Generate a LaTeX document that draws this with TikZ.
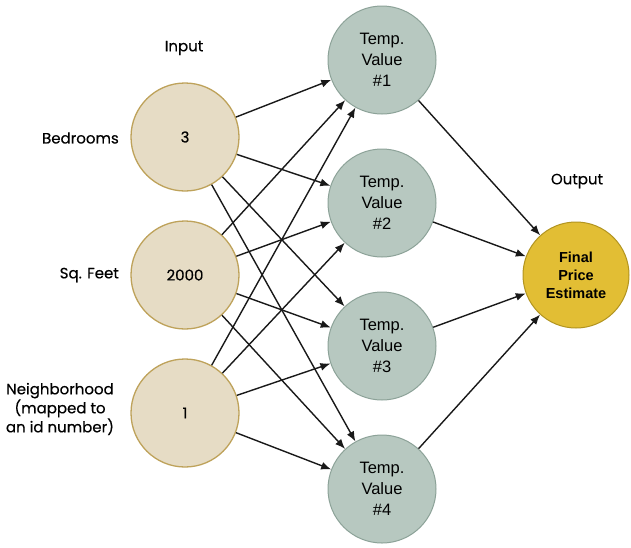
\documentclass[tikz,border=0pt]{standalone}
\usepackage{fontspec}
\setmainfont{Liberation Sans}
\newfontfamily\labelfont[FakeBold=0.4]{Poppins}
\usepackage{tikz}
\usetikzlibrary{arrows.meta}
\definecolor{inputfill}{RGB}{230,220,197}
\definecolor{inputdraw}{RGB}{190,162,90}
\definecolor{tempfill}{RGB}{183,200,192}
\definecolor{tempdraw}{RGB}{140,162,152}
\definecolor{outfill}{RGB}{226,190,52}
\definecolor{outdraw}{RGB}{178,148,32}

\begin{document}
\begin{tikzpicture}[
    x=1pt,
    y=-1pt,
    note/.style={font=\labelfont\fontsize{15}{19}\selectfont, align=center, inner sep=0pt},
    invertex/.style={circle, draw=inputdraw, fill=inputfill, line width=1.3pt, minimum size=108pt, inner sep=0pt, font=\labelfont\fontsize{15}{19}\selectfont},
    tempvertex/.style={circle, draw=tempdraw, fill=tempfill, line width=1pt, minimum size=108pt, inner sep=0pt, align=center, font=\fontsize{16.5}{21}\selectfont},
    outvertex/.style={circle, draw=outdraw, fill=outfill, line width=1pt, minimum size=106pt, inner sep=0pt, align=center, font=\bfseries\fontsize{14.5}{18}\selectfont},
    link/.style={-{Latex[length=10pt,width=8pt]}, line width=1.4pt, black!90}
  ]
  \useasboundingbox (0,0) rectangle (631,547);

  % input layer
  \node[note] (inlabel) at (184,48) {Input};
  \node[invertex] (bed) at (185,137) {3};
  \node[invertex] (sqft) at (185,275) {2000};
  \node[invertex] (hood) at (185,413) {1};
  \node[note, anchor=east] (bedlabel) at (119,138) {Bedrooms};
  \node[note, anchor=east] (sqftlabel) at (119,275) {Sq. Feet};
  \node[note] (hoodlabel) at (60,409) {Neighborhood\\(mapped to\\an id number)};

  % hidden layer
  \node[tempvertex] (t1) at (382,60) {Temp.\\Value\\\#1};
  \node[tempvertex] (t2) at (382,203) {Temp.\\Value\\\#2};
  \node[tempvertex] (t3) at (382,346) {Temp.\\Value\\\#3};
  \node[tempvertex] (t4) at (382,489) {Temp.\\Value\\\#4};

  % output layer
  \node[note] (outlabel) at (577,181) {Output};
  \node[outvertex] (price) at (576,275) {Final\\Price\\Estimate};

  \draw[link] (bed) -- (t1);
  \draw[link] (bed) -- (t2);
  \draw[link] (bed) -- (t3);
  \draw[link] (bed) -- (t4);
  \draw[link] (sqft) -- (t1);
  \draw[link] (sqft) -- (t2);
  \draw[link] (sqft) -- (t3);
  \draw[link] (sqft) -- (t4);
  \draw[link] (hood) -- (t1);
  \draw[link] (hood) -- (t2);
  \draw[link] (hood) -- (t3);
  \draw[link] (hood) -- (t4);

  \draw[link] (t1) -- (price);
  \draw[link] (t2) -- (price);
  \draw[link] (t3) -- (price);
  \draw[link] (t4) -- (price);
\end{tikzpicture}
\end{document}
